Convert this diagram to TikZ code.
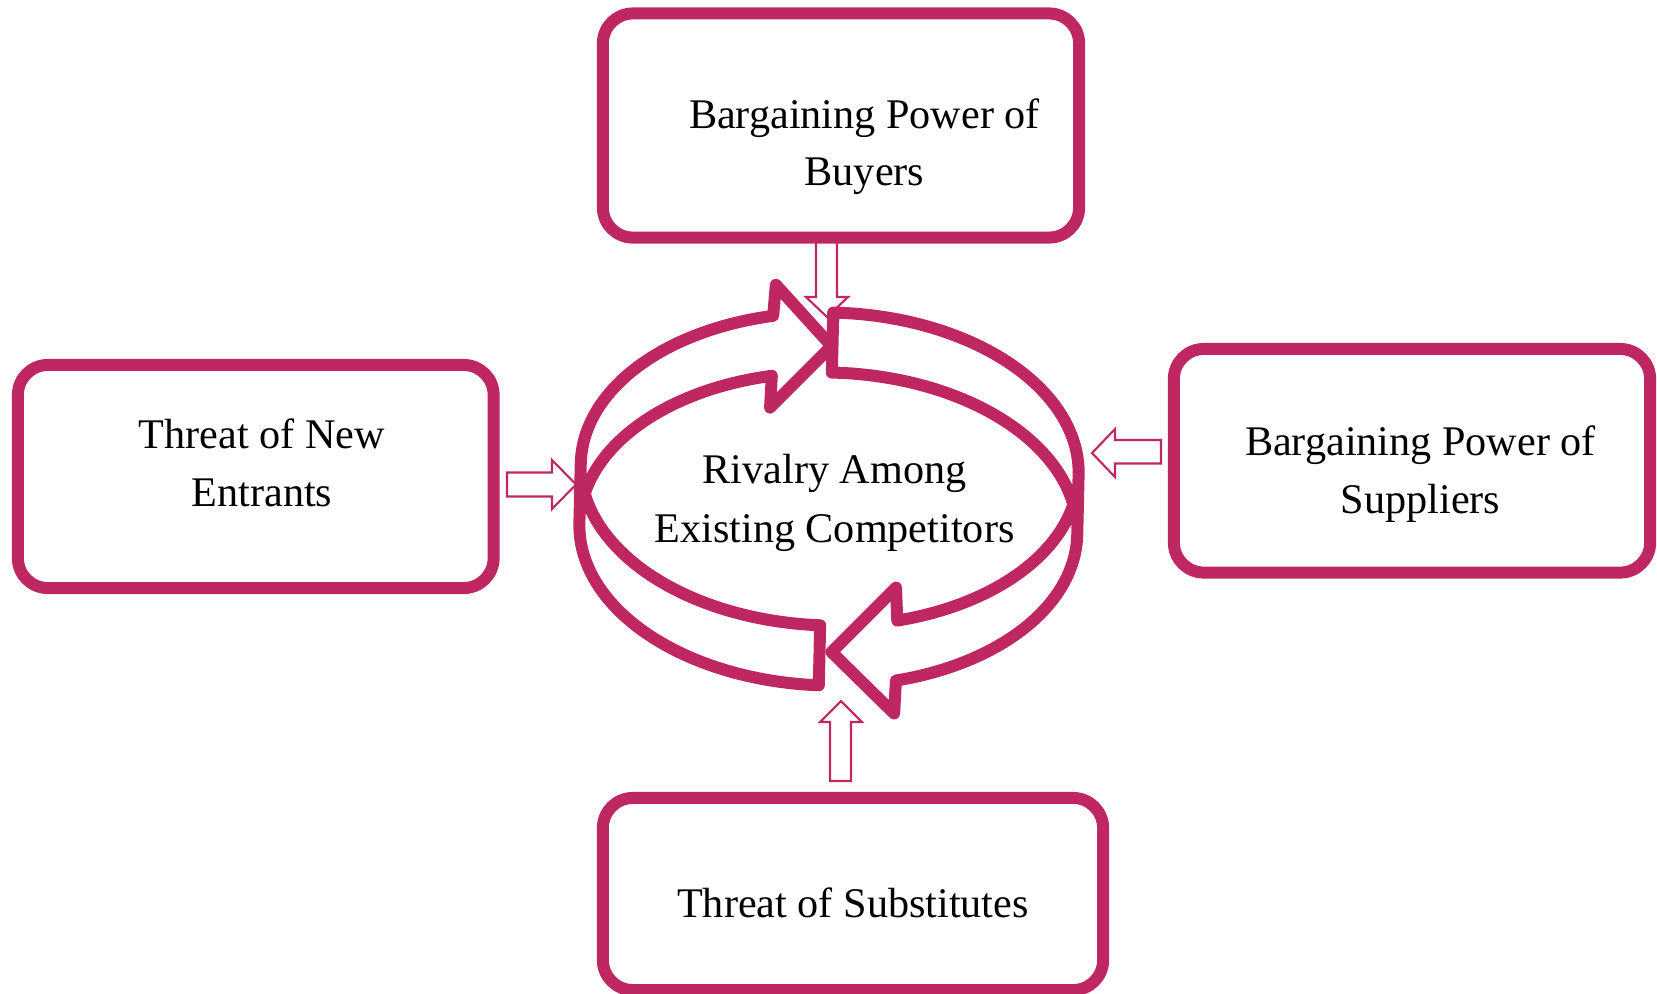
\documentclass[tikz,border=0pt]{standalone}
\usepackage{fontspec}
\setmainfont{Liberation Serif}
\definecolor{rim}{RGB}{191,39,98}
\begin{document}
\begin{tikzpicture}[x=0.01cm, y=-0.01cm,
  box/.style={draw=rim, line width=0.12cm, fill=white, rounded corners=0.3cm,
              inner sep=0pt, outer sep=0pt},
  lbl/.style={anchor=base, inner sep=0pt, font=\fontsize{12}{14}\selectfont},
  ringline/.style={draw=rim, line width=0.12cm, fill=white, line join=round,
                   samples=70, variable=\t},
  blockarrow/.style={draw=rim, line width=0.6pt, fill=white}]
\useasboundingbox (0,0) rectangle (1657,993);

% thin block arrows pointing from each force to the ring
\draw[blockarrow] (816,236) -- (816,297) -- (806,297) -- (827,317) -- (848,297)
  -- (837,297) -- (837,236) -- cycle;
\draw[blockarrow] (507,472.5) -- (552,472.5) -- (552,460) -- (576,484.5)
  -- (552,509) -- (552,496.5) -- (507,496.5) -- cycle;
\draw[blockarrow] (1161,440) -- (1115,440) -- (1115,429) -- (1092,453)
  -- (1115,477) -- (1115,463.5) -- (1161,463.5) -- cycle;
\draw[blockarrow] (830,781) -- (830,722) -- (820,722) -- (841,701) -- (862,722)
  -- (851,722) -- (851,781) -- cycle;

% the four force boxes
\node[box, minimum width=4.76cm, minimum height=2.24cm] (buyers) at (841,125.5) {};
\node[box, minimum width=4.755cm, minimum height=2.23cm] (entrants) at (255.75,476.5) {};
\node[box, minimum width=4.76cm, minimum height=2.235cm] (suppliers) at (1412,460.75) {};
\node[box, minimum width=5.00cm, minimum height=1.92cm] (substitutes) at (853,894) {};

% central ring: two curved block arrows on a pair of offset ellipses
\begin{scope}[rotate around={-1.3:(829,499)}]
  % left half, arrowhead at the top pointing right
  \draw[ringline]
    plot[domain=91.38:180] ({829+249*cos(\t)},{529+156.5*sin(\t)})
    -- plot[domain=180:256.06] ({829+249*cos(\t)},{469+156.5*sin(\t)})
    -- (771,286) -- (828,346) -- (768,409)
    -- plot[domain=256.06:191.05] ({829+249*cos(\t)},{529+156.5*sin(\t)})
    -- plot[domain=168.95:91.38] ({829+249*cos(\t)},{469+156.5*sin(\t)})
    -- cycle;
  % right half, arrowhead at the bottom pointing left
  \draw[ringline]
    plot[domain=270:360] ({829+249*cos(\t)},{469+156.5*sin(\t)})
    -- plot[domain=0:73.43] ({829+249*cos(\t)},{529+156.5*sin(\t)})
    -- (899,712) -- (835,652) -- (898,586)
    -- plot[domain=73.43:11.05] ({829+249*cos(\t)},{469+156.5*sin(\t)})
    -- plot[domain=348.95:270] ({829+249*cos(\t)},{529+156.5*sin(\t)})
    -- cycle;
\end{scope}

% labels
\node[lbl] (buyersA) at (864.5,128) {Bargaining Power of};
\node[lbl] (buyersB) at (864.5,185) {Buyers};
\node[lbl] (entrantsA) at (262,448) {Threat of New};
\node[lbl] (entrantsB) at (262,506) {Entrants};
\node[lbl] (suppliersA) at (1420.5,455) {Bargaining Power of};
\node[lbl] (suppliersB) at (1420.5,513) {Suppliers};
\node[lbl] (substitutesA) at (853,917) {Threat of Substitutes};
\node[lbl] (rivalryA) at (834.5,483) {Rivalry Among};
\node[lbl] (rivalryB) at (834.5,542) {Existing Competitors};
\end{tikzpicture}
\end{document}
